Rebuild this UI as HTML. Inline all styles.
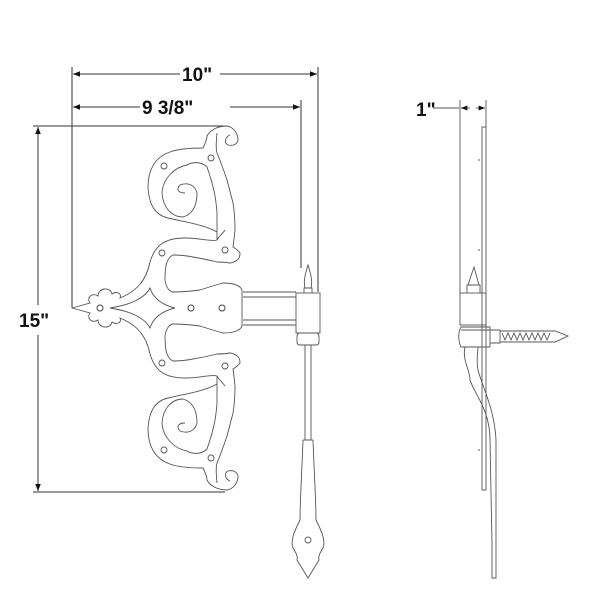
<!DOCTYPE html>
<html><head><style>body{margin:0;background:#fff}svg{display:block}text{font-family:"Liberation Sans",sans-serif;font-weight:bold;fill:#111}</style></head><body>
<svg width="600" height="600" viewBox="0 0 600 600" xmlns="http://www.w3.org/2000/svg">
<defs><marker id="a" viewBox="0 0 10 10" refX="10" refY="5" markerWidth="7" markerHeight="7" orient="auto-start-reverse"><path d="M0,1 L10,5 L0,9z" fill="#111"/></marker></defs>
<g stroke="#333" stroke-width="1" fill="none">
<!-- dimension lines -->
<line x1="72" y1="67" x2="72" y2="308"/>
<line x1="318" y1="67" x2="318" y2="292"/>
<line x1="301" y1="100" x2="301" y2="268"/>
<line x1="73" y1="74" x2="180" y2="74" marker-start="url(#a)"/>
<line x1="220" y1="74" x2="317" y2="74" marker-end="url(#a)"/>
<line x1="73" y1="107" x2="140" y2="107" marker-start="url(#a)"/>
<line x1="230" y1="107" x2="300" y2="107" marker-end="url(#a)"/>
<line x1="33" y1="126" x2="225" y2="126"/>
<line x1="33" y1="492" x2="225" y2="492"/>
<line x1="38" y1="127" x2="38" y2="305" marker-start="url(#a)"/>
<line x1="38" y1="335" x2="38" y2="491" marker-end="url(#a)"/>
</g>
<text x="182" y="81" font-size="19">10"</text>
<text x="142" y="114" font-size="19">9 3/8"</text>
<text x="19" y="327" font-size="19">15"</text>
<text x="416" y="116" font-size="19">1"</text>
<g stroke="#555" stroke-width="0.9" fill="none">
<g id="up">
<path d="M72,308 L90,303 C86,298 92,292 98,296 C98,288 110,286 112,294 C116,291 122,293 120,298 C135,292 146,282 150,262 C155,245 165,238 185,238 C200,238 212,242 217,240 L217,213 C216,200 215,190 207,167 C200,160 190,163 187,165 C175,167 163,178 162,193 C163,208 172,217 183,217 C193,214 197,205 197,193 C195,185 188,182 180,185 C176,189 178,193 185,193"/>
<path d="M217,240 C220,235 224,232 225,230 M148,187 C148,170 155,157 170,152 C180,148 195,148 203,148 C206,142 207,138 207,136 C210,130 218,126 227,126 C233,127 238,133 238,140 C237,145 232,146 228,145 C224,143 225,137 230,135 M217,133 C216,143 216,150 217,153 C222,165 227,180 227,180 C231,195 233,203 233,203 C235,215 235,230 235,230 C234,240 233,247 233,247 C238,250 240,253 240,253 C240,259 237,260 237,260 C233,263 230,263 230,263 C225,262 217,262 217,262 C205,259 193,257 193,257 C183,255 173,255 173,255 C166,258 165,268 165,280 C166,288 170,292 173,292 C185,292 200,290 200,290 C212,286 223,283 223,283 C232,283 240,285 242,290 L242,308"/>
<path d="M148,187 C149,205 155,215 168,218 C185,222 205,225 217,232"/>
<path d="M110,308 C130,305 145,298 150,288 C153,298 162,305 175,308"/>
<circle cx="100" cy="308" r="3"/><circle cx="191" cy="308" r="3"/><circle cx="222" cy="308" r="3"/>
<circle cx="162" cy="253" r="3"/><circle cx="225" cy="250" r="3"/><circle cx="164" cy="166" r="3"/><circle cx="211" cy="158" r="3"/>
</g>
<use href="#up" transform="translate(0,616) scale(1,-1)"/>
<!-- hinge straps -->
<path d="M243,292 H296 M243,297 H296 M243,320 H296 M243,325 H296"/>
<rect x="296" y="293" width="24" height="40"/>
<rect x="297" y="333" width="22" height="12" rx="3"/>
<path d="M304,293 V288 H312 V293 M305,288 C303,280 306,272 308,265 C310,272 313,280 311,288"/>
<path d="M305,345 V440 M311,345 V440 M303,440 H313 M303,440 C302,470 300,500 300,520 C295,530 290,540 293,548 C296,553 298,556 297,560 L308,578 L319,560 C318,556 320,553 323,548 C326,540 321,530 316,520 C316,500 314,470 313,440"/>
<circle cx="308" cy="540" r="3"/>
<!-- side view -->
<line x1="460" y1="100" x2="460" y2="293"/>
<line x1="486" y1="100" x2="486" y2="127"/>
<line x1="433" y1="108" x2="459" y2="108"/>
<line x1="470" y1="108" x2="461" y2="108" marker-end="url(#a)"/>
<line x1="476" y1="108" x2="485" y2="108" marker-end="url(#a)"/>
<rect x="482" y="127" width="4" height="363"/>
<path d="M480,160 h-2 M480,250 h-2 M480,450 h-2"/>
<rect x="460" y="293" width="26" height="32"/>
<path d="M467,293 V285 H480 V293 M468,285 L474,267 L479,285"/>
<path d="M461,327 H490 V347 H461 C458,340 458,333 461,327z M461,330 H490"/>
<path d="M490,330 H500 V343 H490 M500,331 H555 L568,336 L555,342 H500"/>
<path d="M502,333 l3,7 l3,-7 l3,7 l3,-7 l3,7 l3,-7 l3,7 l3,-7 l3,7 l3,-7 l3,7 l3,-7 l3,7 l3,-7 l3,7 l3,-7"/>
<path d="M465,347 C462,360 470,370 470,380 C475,395 490,410 490,440 L492,545 V578 H496 V440 C495,410 480,380 478,370 C476,360 478,352 478,347"/>
</g>
</svg>
</body></html>
